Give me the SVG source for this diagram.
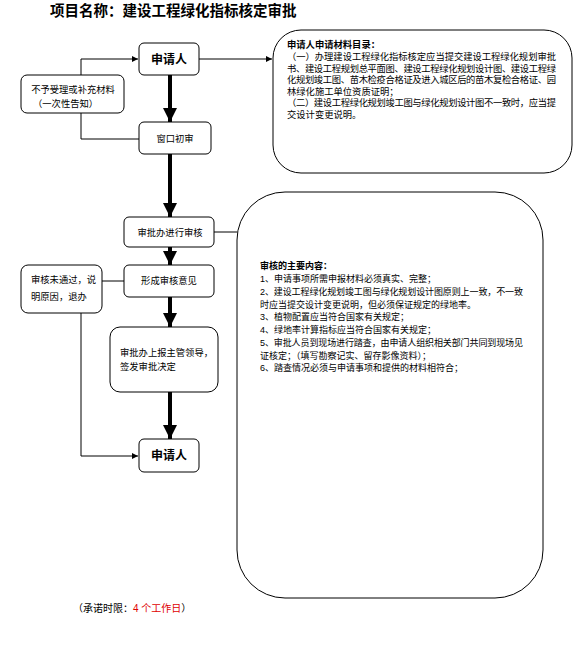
<svg xmlns="http://www.w3.org/2000/svg" width="583" height="663" viewBox="0 0 583 663">
<style>
text{font-family:"Liberation Sans","Noto Sans CJK SC",sans-serif;fill:#000}
.box{fill:#fff;stroke:#000;stroke-width:1}
.t{font-size:9.3px}
.s{font-size:9px}
.b{font-weight:bold}
.thin{fill:none;stroke:#000;stroke-width:1}
.thick{fill:none;stroke:#000;stroke-width:4}
</style>
<defs>
<marker id="ah" markerUnits="userSpaceOnUse" markerWidth="14" markerHeight="16" refX="14" refY="7" orient="auto">
<path d="M0,0 L14,7 L0,14 Z" fill="#000"/>
</marker>
<marker id="as" markerUnits="userSpaceOnUse" markerWidth="7" markerHeight="7" refX="6" refY="3" orient="auto">
<path d="M0,0 L6,3 L0,6 Z" fill="#000"/>
</marker>
</defs>
<rect width="583" height="663" fill="#fff"/>
<text x="50" y="16" style="font-size:14.5px;font-weight:bold;font-family:'Noto Sans CJK SC',sans-serif">项目名称：建设工程绿化指标核定审批</text>

<g id="connectors">
<path class="thin" d="M199,59 H272" marker-end="url(#as)"/>
<path class="thin" d="M81,75 V59 H138" marker-end="url(#as)"/>
<path class="thin" d="M81,113 V139 H139"/>
<path class="thick" d="M170,75 V122" marker-end="url(#ah)"/>
<path class="thick" d="M170,154 V217" marker-end="url(#ah)"/>
<path class="thin" d="M214,232 H237"/>
<path class="thick" d="M170,247 V265" marker-end="url(#ah)"/>
<path class="thin" d="M102,281 H124"/>
<path class="thick" d="M170,297 V327" marker-end="url(#ah)"/>
<path class="thick" d="M170,392 V439" marker-end="url(#ah)"/>
<path class="thin" d="M81,313 V456 H138" marker-end="url(#as)"/>
</g>

<g id="n_applicant1">
<rect class="box" x="139" y="43" width="60" height="32" rx="5"/>
<text x="169" y="64" text-anchor="middle" class="b" style="font-size:12px">申请人</text>
</g>
<g id="n_reject">
<rect class="box" x="21" y="75" width="103" height="38" rx="6"/>
<text x="73" y="93" text-anchor="middle" class="t">不予受理或补充材料</text>
<text x="33" y="107" class="t">（一次性告知）</text>
</g>
<g id="n_window">
<rect class="box" x="139" y="122" width="72" height="32" rx="5"/>
<text x="175" y="142" text-anchor="middle" class="t">窗口初审</text>
</g>
<g id="n_review">
<rect class="box" x="124" y="217" width="90" height="30" rx="5"/>
<text x="170" y="236" text-anchor="middle" class="t">审批办进行审核</text>
</g>
<g id="n_opinion">
<rect class="box" x="124" y="265" width="90" height="32" rx="5"/>
<text x="169" y="284" text-anchor="middle" class="t">形成审核意见</text>
</g>
<g id="n_fail">
<rect class="box" x="21" y="265" width="81" height="48" rx="7"/>
<text x="31" y="283" class="t">审核未通过，说</text>
<text x="31" y="300" class="t">明原因，退办</text>
</g>
<g id="n_report">
<rect class="box" x="110" y="327" width="108" height="65" rx="10"/>
<text x="120" y="356" class="t">审批办上报主管领导，</text>
<text x="120" y="370" class="t">签发审批决定</text>
</g>
<g id="n_applicant2">
<rect class="box" x="139" y="439" width="60" height="33" rx="5"/>
<text x="169" y="460" text-anchor="middle" class="b" style="font-size:12px">申请人</text>
</g>
<g id="n_materials">
<rect class="box" x="273" y="30" width="299" height="143" rx="28"/>
<text x="287" y="48" class="t b">申请人申请材料目录：</text>
<text x="287" y="60" class="t" textLength="269">（一）办理建设工程绿化指标核定应当提交建设工程绿化规划审批</text>
<text x="287" y="71.5" class="t" textLength="269">书、建设工程规划总平面图、建设工程绿化规划设计图、建设工程绿</text>
<text x="287" y="83" class="t" textLength="269">化规划竣工图、苗木检疫合格证及进入城区后的苗木复检合格证、园</text>
<text x="287" y="94.5" class="t">林绿化施工单位资质证明；</text>
<text x="287" y="106" class="t" textLength="269">（二）建设工程绿化规划竣工图与绿化规划设计图不一致时，应当提</text>
<text x="287" y="117.5" class="t">交设计变更说明。</text>
</g>
<g id="n_content">
<rect class="box" x="237" y="192" width="306" height="406" rx="48"/>
<text x="260" y="269" class="s b">审核的主要内容：</text>
<text x="260" y="282" class="s">1、申请事项所需申报材料必须真实、完整；</text>
<text x="260" y="295" class="s" textLength="263">2、建设工程绿化规划竣工图与绿化规划设计图原则上一致，不一致</text>
<text x="260" y="307.5" class="s">时应当提交设计变更说明，但必须保证规定的绿地率。</text>
<text x="260" y="320" class="s">3、植物配置应当符合国家有关规定；</text>
<text x="260" y="333" class="s">4、绿地率计算指标应当符合国家有关规定；</text>
<text x="260" y="346" class="s" textLength="263">5、审批人员到现场进行踏查，由申请人组织相关部门共同到现场见</text>
<text x="260" y="358.5" class="s">证核定；（填写勘察记实、留存影像资料）；</text>
<text x="260" y="371" class="s">6、踏查情况必须与申请事项和提供的材料相符合；</text>
</g>
<text x="73" y="612" style="font-size:10px">（承诺时限：<tspan style="fill:#e00000">4 个工作日</tspan>）</text>
</svg>
